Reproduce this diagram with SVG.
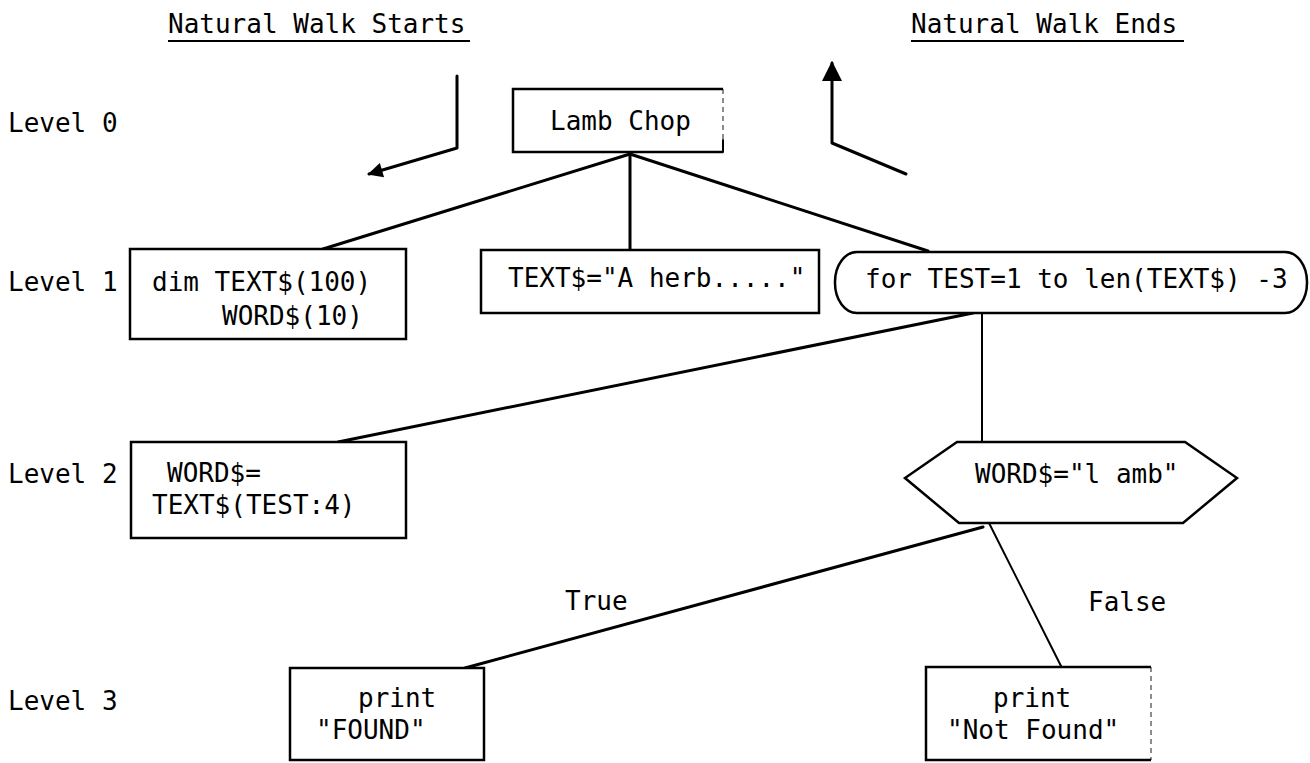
<svg xmlns="http://www.w3.org/2000/svg" width="1310" height="763" viewBox="0 0 1310 763">
  <style>
    .t { font-family: "DejaVu Sans Mono", "Liberation Mono", monospace; font-size: 26px; fill: #000; }
    .box { fill: #fff; stroke: #000; stroke-width: 2.5; }
    .edge { fill: none; stroke: #000; stroke-width: 3; stroke-linecap: round; stroke-linejoin: round; }
    .thin { stroke-width: 2; }
    .faint { fill: none; stroke: #000; stroke-width: 1.5; stroke-dasharray: 5 4; opacity: 0.6; }
    .rule { stroke: #000; stroke-width: 2; }
  </style>
  <defs>
    <marker id="head-small" viewBox="0 0 10 10" refX="9" refY="5" markerUnits="userSpaceOnUse" markerWidth="17" markerHeight="15" orient="auto">
      <path d="M0,0 L10,5 L0,10 z" fill="#000"/>
    </marker>
    <marker id="head-large" viewBox="0 0 10 10" refX="9" refY="5" markerUnits="userSpaceOnUse" markerWidth="22" markerHeight="20" orient="auto">
      <path d="M0,0 L10,5 L0,10 z" fill="#000"/>
    </marker>
  </defs>

  <rect width="1310" height="763" fill="#fff"/>

  <!-- headings -->
  <g id="headings">
    <text class="t" x="168" y="33">Natural Walk Starts</text>
    <line class="rule" x1="168" y1="41" x2="470" y2="41"/>
    <text class="t" x="911" y="33">Natural Walk Ends</text>
    <line class="rule" x1="911" y1="41" x2="1184" y2="41"/>
  </g>

  <!-- level labels -->
  <g id="levels">
    <text class="t" x="8" y="132">Level 0</text>
    <text class="t" x="8" y="291">Level 1</text>
    <text class="t" x="8" y="483">Level 2</text>
    <text class="t" x="8" y="710">Level 3</text>
  </g>

  <!-- walk direction arrows -->
  <g id="walk-arrows">
    <polyline class="edge" points="457,76 457,148 369,174" marker-end="url(#head-small)"/>
    <polyline class="edge" points="906,174 832,143 832,63" marker-end="url(#head-large)"/>
  </g>

  <!-- tree connectors -->
  <g id="connectors">
    <line class="edge" x1="630" y1="154" x2="323" y2="249"/>
    <line class="edge" x1="630" y1="154" x2="630" y2="250"/>
    <line class="edge" x1="630" y1="154" x2="928" y2="251"/>
    <line class="edge" x1="973" y1="313" x2="338" y2="442"/>
    <line class="edge thin" x1="982" y1="313" x2="982" y2="442"/>
    <line class="edge" x1="983" y1="527" x2="465" y2="668"/>
    <line class="edge thin" x1="989" y1="523" x2="1062" y2="668"/>
  </g>

  <!-- branch labels -->
  <g id="branch-labels">
    <text class="t" x="565" y="610">True</text>
    <text class="t" x="1088" y="611">False</text>
  </g>

  <g id="node-lamb-chop">
    <path class="box" d="M723,89 L513,89 L513,152 L723,152"/>
    <line class="faint" x1="723" y1="89" x2="723" y2="140"/>
    <line class="edge thin" x1="723" y1="140" x2="723" y2="152"/>
    <text class="t" x="550" y="130">Lamb Chop</text>
  </g>

  <g id="node-dim">
    <rect class="box" x="130" y="249" width="276" height="90"/>
    <text class="t" x="152" y="291">dim TEXT$(100)</text>
    <text class="t" x="222" y="325">WORD$(10)</text>
  </g>

  <g id="node-assign-text">
    <rect class="box" x="481" y="250" width="338" height="63"/>
    <text class="t" x="508" y="287">TEXT$="A herb....."</text>
  </g>

  <g id="node-for-loop">
    <rect class="box" x="835" y="252" width="472" height="61" rx="22" ry="30"/>
    <text class="t" x="865" y="288">for TEST=1 to len(TEXT$) -3</text>
  </g>

  <g id="node-assign-word">
    <rect class="box" x="131" y="442" width="275" height="96"/>
    <text class="t" x="167" y="482">WORD$=</text>
    <text class="t" x="152" y="514">TEXT$(TEST:4)</text>
  </g>

  <g id="node-test">
    <polygon class="box" points="957,442 1185,442 1237,478 1183,523 959,523 905,478"/>
    <text class="t" x="975" y="483">WORD$="l amb"</text>
  </g>

  <g id="node-found">
    <rect class="box" x="290" y="668" width="194" height="92"/>
    <text class="t" x="358" y="707">print</text>
    <text class="t" x="316" y="739">"FOUND"</text>
  </g>

  <g id="node-not-found">
    <path class="box" d="M1151,667 L926,667 L926,760 L1151,760"/>
    <line class="faint" x1="1151" y1="667" x2="1151" y2="760"/>
    <text class="t" x="993" y="707">print</text>
    <text class="t" x="947" y="739">"Not Found"</text>
  </g>
</svg>
